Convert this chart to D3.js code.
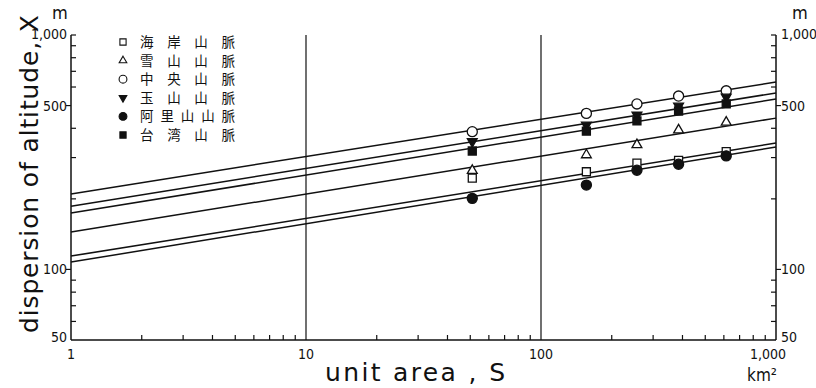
<!DOCTYPE html>
<html lang="ja">
	<head>
		<meta charset="utf-8">
		<title>dispersion of altitude</title>
		<script type="text/javascript" src="https://cdn.jsdelivr.net/npm/d3@7"></script>
		<style type="text/css">
			body { margin: 0; background: #fff; }
			text { fill: #111; }
		</style>
	</head>
	<body>
		<script type="text/javascript">

			//Width and height
			var w = 816;
			var h = 388;

			//Data
			var seriesNames = ["海岸山脈", "雪山山脈", "中央山脈", "玉山山脈", "阿里山山脈", "台湾山脈"];
			var seriesSymbols = ["square", "triangle", "circle", "invtriangle", "circle", "square"];
			var seriesFilled = [false, false, false, true, true, true];

			var areas = [51, 156, 256, 385, 614];
			var kaigan   = [245, 261, 284, 292, 318];
			var setsuzan = [264, 308, 340, 393, 424];
			var chuo     = [387, 463, 508, 549, 578];
			var gyokuzan = [351, 413, 456, 498, 544];
			var arisan   = [201, 229, 265, 281, 305];
			var taiwan   = [320, 389, 430, 474, 508];

			//Fitted lines: value at S = 1 and at S = 1000
			var fitStart = [114, 144.5, 210, 186, 107.5, 174];
			var fitEnd   = [346, 442, 630, 566, 333, 533];

			var xTicks = [1, 10, 100, 1000];
			var xTickLabels = ["1", "10", "100", "1,000"];
			var yTicks = [50, 100, 500, 1000];
			var yTickLabels = ["50", "100", "500", "1,000"];

			var allValues = [kaigan, setsuzan, chuo, gyokuzan, arisan, taiwan];

			var xScale = d3.scaleLog()
							.domain([1, 1000])
							.range([71, 776]);

			var yScale = d3.scaleLog()
							.domain([50, 1000])
							.range([340, 35]);

			//Create SVG element
			var svg = d3.select("body")
						.append("svg")
						.attr("width", w)
						.attr("height", h);

			var font = "'DejaVu Sans Condensed', 'DejaVu Sans', sans-serif";

			//Axes frame (left, right, bottom)
			svg.append("line")
			   .attr("x1", xScale(1)).attr("x2", xScale(1))
			   .attr("y1", yScale(1000)).attr("y2", yScale(50))
			   .attr("stroke", "#111").attr("stroke-width", 1.5);
			svg.append("line")
			   .attr("x1", xScale(1000)).attr("x2", xScale(1000))
			   .attr("y1", yScale(1000)).attr("y2", yScale(50))
			   .attr("stroke", "#111").attr("stroke-width", 1.5);
			svg.append("line")
			   .attr("x1", xScale(1)).attr("x2", xScale(1000))
			   .attr("y1", yScale(50)).attr("y2", yScale(50))
			   .attr("stroke", "#111").attr("stroke-width", 1.5);

			//Vertical lines at 10 and 100
			svg.selectAll("line.vgrid")
			   .data([10, 100])
			   .enter()
			   .append("line")
			   .attr("class", "vgrid")
			   .attr("x1", function(d) { return xScale(d); })
			   .attr("x2", function(d) { return xScale(d); })
			   .attr("y1", yScale(1000))
			   .attr("y2", yScale(50))
			   .attr("stroke", "#111")
			   .attr("stroke-width", 1.2);

			//Minor x ticks (pointing up)
			var xMinor = xScale.ticks().filter(function(d) {
				return xTicks.indexOf(d) < 0;
			});
			svg.selectAll("line.xminor")
			   .data(xMinor)
			   .enter()
			   .append("line")
			   .attr("class", "xminor")
			   .attr("x1", function(d) { return xScale(d); })
			   .attr("x2", function(d) { return xScale(d); })
			   .attr("y1", yScale(50))
			   .attr("y2", yScale(50) - 5)
			   .attr("stroke", "#111")
			   .attr("stroke-width", 1.2);

			//Minor y ticks (inward) on both sides
			var yMinor = yScale.ticks().filter(function(d) {
				return yTicks.indexOf(d) < 0;
			}).concat([1000]);
			[[xScale(1), 5], [xScale(1000), -5]].forEach(function(side) {
				svg.selectAll(null)
				   .data(yMinor)
				   .enter()
				   .append("line")
				   .attr("x1", side[0])
				   .attr("x2", side[0] + side[1])
				   .attr("y1", function(d) { return yScale(d); })
				   .attr("y2", function(d) { return yScale(d); })
				   .attr("stroke", "#111")
				   .attr("stroke-width", 1.2);

				//major ticks outward at 500 and 100
				svg.selectAll(null)
				   .data([100, 500])
				   .enter()
				   .append("line")
				   .attr("x1", side[0])
				   .attr("x2", side[0] - side[1])
				   .attr("y1", function(d) { return yScale(d); })
				   .attr("y2", function(d) { return yScale(d); })
				   .attr("stroke", "#111")
				   .attr("stroke-width", 1.2);
			});

			//Tick labels
			svg.selectAll("text.xlab")
			   .data(xTicks)
			   .enter()
			   .append("text")
			   .attr("class", "xlab")
			   .text(function(d, i) { return xTickLabels[i]; })
			   .attr("text-anchor", "middle")
			   .attr("x", function(d) { return xScale(d) + (d == 1000 ? -8 : 0); })
			   .attr("y", 359)
			   .attr("font-family", font)
			   .attr("font-size", "14px");

			svg.selectAll("text.ylabL")
			   .data(yTicks)
			   .enter()
			   .append("text")
			   .attr("class", "ylabL")
			   .text(function(d, i) { return yTickLabels[i]; })
			   .attr("text-anchor", "end")
			   .attr("x", 67)
			   .attr("y", function(d) { return yScale(d) + (d == 1000 ? 4 : (d == 50 ? 2 : 5)); })
			   .attr("font-family", font)
			   .attr("font-size", "14px");

			svg.selectAll("text.ylabR")
			   .data(yTicks)
			   .enter()
			   .append("text")
			   .attr("class", "ylabR")
			   .text(function(d, i) { return yTickLabels[i]; })
			   .attr("text-anchor", "start")
			   .attr("x", 781)
			   .attr("y", function(d) { return yScale(d) + (d == 1000 ? 4 : (d == 50 ? 2 : 5)); })
			   .attr("font-family", font)
			   .attr("font-size", "14px");

			//Units
			svg.append("text").text("m")
			   .attr("x", 60).attr("y", 19)
			   .attr("text-anchor", "middle")
			   .attr("font-family", font).attr("font-size", "18px");
			svg.append("text").text("m")
			   .attr("x", 800).attr("y", 19)
			   .attr("text-anchor", "middle")
			   .attr("font-family", font).attr("font-size", "18px");
			svg.append("text").text("km²")
			   .attr("x", 762).attr("y", 381)
			   .attr("text-anchor", "middle")
			   .attr("font-family", font).attr("font-size", "17px");

			//Axis titles
			svg.append("text")
			   .text("unit  area , S")
			   .attr("x", 325)
			   .attr("y", 381)
			   .attr("textLength", 180)
			   .attr("font-family", "'DejaVu Sans', sans-serif")
			   .attr("font-size", "25px");

			svg.append("text")
			   .text("dispersion  of  altitude, X")
			   .attr("transform", "translate(38,333) rotate(-90)")
			   .attr("textLength", 318)
			   .attr("font-family", "'DejaVu Sans', sans-serif")
			   .attr("font-size", "25px");

			//Fitted lines
			var line = d3.line()
						 .x(function(d) { return xScale(d[0]); })
						 .y(function(d) { return yScale(d[1]); });

			svg.selectAll("path.fit")
			   .data(fitStart)
			   .enter()
			   .append("path")
			   .attr("class", "fit")
			   .attr("d", function(d, i) { return line([[1, d], [1000, fitEnd[i]]]); })
			   .attr("fill", "none")
			   .attr("stroke", "#111")
			   .attr("stroke-width", 1.5);

			//Marker shapes
			function symbolPath(kind, size) {
				var t = kind == "circle" ? d3.symbolCircle : (kind == "square" ? d3.symbolSquare : d3.symbolTriangle);
				return d3.symbol().type(t).size(size)();
			}
			function symbolSize(kind, scale) {
				if (kind == "circle") return 80 * scale;
				if (kind == "square") return 64 * scale;
				return 42 * scale;
			}

			//Data points
			allValues.forEach(function(vals, s) {
				var kind = seriesSymbols[s];
				svg.selectAll(null)
				   .data(vals)
				   .enter()
				   .append("path")
				   .attr("d", symbolPath(kind, symbolSize(kind, 1)))
				   .attr("transform", function(d, i) {
				   		return "translate(" + xScale(areas[i]) + "," + yScale(d) + ")" +
				   			(kind == "invtriangle" ? " rotate(180)" : "");
				   })
				   .attr("fill", seriesFilled[s] ? "#111" : "#fff")
				   .attr("stroke", "#111")
				   .attr("stroke-width", 1.3);
			});

			//Legend
			var legend = svg.selectAll("g.legend")
							.data(seriesNames)
							.enter()
							.append("g")
							.attr("class", "legend")
							.attr("transform", function(d, i) {
								return "translate(123," + (42 + i * 18.6) + ")";
							});

			legend.append("path")
				  .attr("d", function(d, i) {
				  		var kind = seriesSymbols[i];
				  		return symbolPath(kind, symbolSize(kind, 0.6));
				  })
				  .attr("transform", function(d, i) {
				  		return seriesSymbols[i] == "invtriangle" ? "rotate(180)" : "";
				  })
				  .attr("fill", function(d, i) { return seriesFilled[i] ? "#111" : "#fff"; })
				  .attr("stroke", "#111")
				  .attr("stroke-width", 1.1);

			legend.append("text")
				  .text(function(d) { return d; })
				  .attr("x", 17)
				  .attr("y", 5)
				  .attr("textLength", 95)
				  .attr("lengthAdjust", "spacing")
				  .attr("font-family", "'Noto Sans CJK JP', sans-serif")
				  .attr("font-size", "13.5px");

		</script>
	</body>
</html>
